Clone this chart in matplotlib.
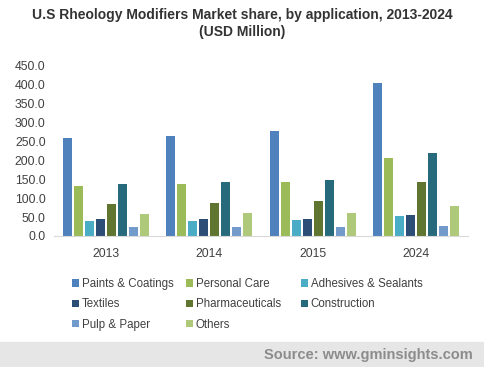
import matplotlib
matplotlib.use("Agg")
import matplotlib.pyplot as plt
import numpy as np
from matplotlib.patches import Rectangle

years = ["2013", "2014", "2015", "2024"]
series = ["Paints & Coatings", "Personal Care", "Adhesives & Sealants", "Textiles",
          "Pharmaceuticals", "Construction", "Pulp & Paper", "Others"]
paints = [258, 265, 278, 405]
personal = [132, 138, 143, 207]
adhesives = [40, 40, 42, 53]
textiles = [45, 45, 45, 56]
pharma = [85, 88, 92, 143]
construction = [138, 143, 148, 220]
pulp = [24, 24, 24, 26]
others = [58, 61, 61, 79]
values = [paints, personal, adhesives, textiles, pharma, construction, pulp, others]
colors = ["#4F81BD", "#9BBB59", "#4BACC6", "#2C4D75", "#5F7530", "#276A7C", "#729ACA", "#AFC97A"]

plt.rcParams['font.family'] = ['Liberation Sans', 'DejaVu Sans']
fig = plt.figure(figsize=(4.84, 3.67), dpi=100)
ax = fig.add_axes([0.1116, 0.357, 0.855, 0.464])

x = np.arange(len(years))
pitch = 0.106
width = 0.087
n = len(series)
for i, (name, vals, c) in enumerate(zip(series, values, colors)):
    ax.bar(x + (i - (n - 1) / 2) * pitch, vals, width=width, color=c, label=name)

ax.set_ylim(0, 450)
ax.set_xlim(-0.5, 3.5)
ax.set_yticks(np.arange(0, 451, 50))
ax.set_yticklabels([f"{v:.1f}" for v in np.arange(0, 451, 50)])
ax.set_xticks(x)
ax.set_xticklabels(years)
ax.tick_params(axis='both', length=0, labelsize=8.8, colors="#404040")
ax.tick_params(axis='x', pad=9)
ax.tick_params(axis='y', pad=6)
for s in ["top", "right", "left"]:
    ax.spines[s].set_visible(False)
ax.spines["bottom"].set_color("#D9D9D9")

fig.text(0.5, 0.958, "U.S Rheology Modifiers Market share, by application, 2013-2024",
         ha="center", va="center", fontsize=10, fontweight="bold", color="#333333")
fig.text(0.5, 0.914, "(USD Million)", ha="center", va="center",
         fontsize=10, fontweight="bold", color="#333333")

handles, labels = ax.get_legend_handles_labels()
col_x = [72 / 484, 186 / 484, 301 / 484]
for c in range(3):
    idx = list(range(c, len(handles), 3))
    leg = fig.legend([handles[i] for i in idx], [labels[i] for i in idx], ncol=1,
                     loc="upper left", bbox_to_anchor=(col_x[c], (367 - 278) / 367),
                     frameon=False, fontsize=8.3, handlelength=0.6, handleheight=0.6,
                     handletextpad=0.25, labelspacing=0.72,
                     borderaxespad=0, borderpad=0)
    for t in leg.get_texts():
        t.set_color("#404040")

fig.patches.append(Rectangle((0, 0), 1, (367 - 342) / 367, transform=fig.transFigure,
                             color="#E6E6E6", zorder=0))
fig.text(0.977, 0.034, "Source: www.gminsights.com", ha="right", va="center",
         fontsize=10.5, fontweight="bold", color="#8C8C8C")

fig.savefig("out.png", dpi=100)
